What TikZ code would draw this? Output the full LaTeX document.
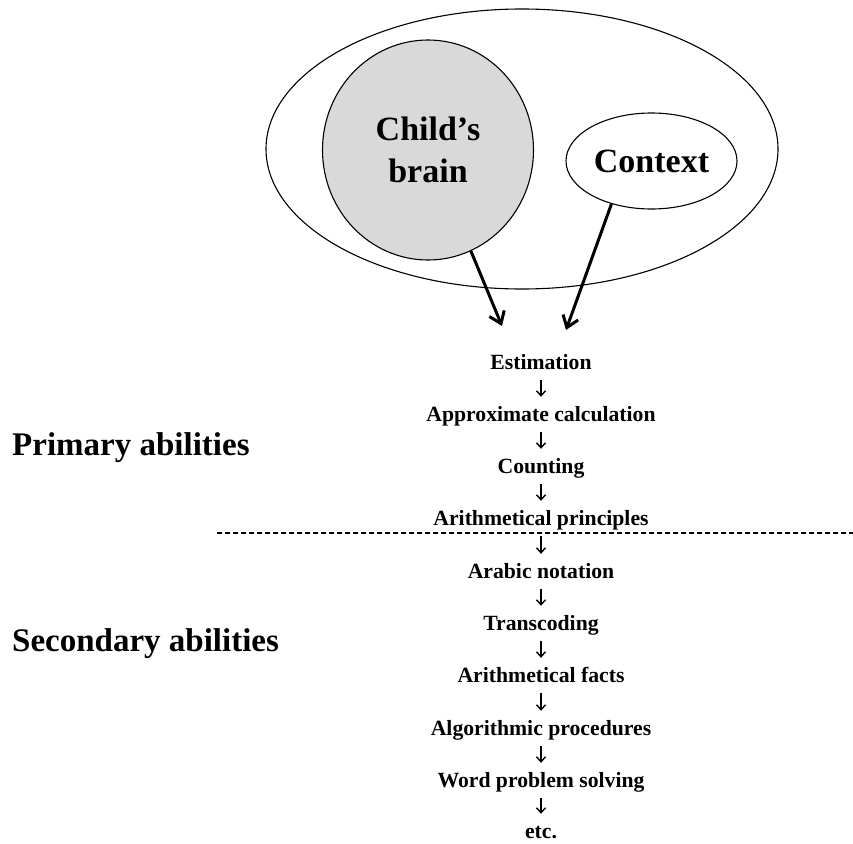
\documentclass[tikz,border=0pt]{standalone}
\usepackage{fontspec}
\setmainfont{Liberation Serif}
\usetikzlibrary{shapes.geometric,arrows.meta}
\tikzset{
  colitem/.style={font=\fontsize{21.7}{26}\selectfont\bfseries, inner sep=0pt, anchor=base, text height=24pt, text depth=11pt},
  smallarrow/.style={draw, line width=1.4pt, -{Straight Barb[length=5pt,width=9pt]}},
  bigarrow/.style={draw, line width=3pt, -{Straight Barb[length=11pt,width=16pt]}},
  sidelabel/.style={font=\fontsize{33}{40}\selectfont\bfseries, inner sep=0pt, anchor=base west},
  bubble/.style={ellipse, draw, line width=1.1pt, inner sep=0pt, font=\fontsize{34}{42}\selectfont\bfseries, align=center},
  divider/.style={draw, line width=1.2pt, dash pattern=on 5pt off 3pt}
}
\begin{document}
\begin{tikzpicture}[x=1pt,y=-1pt]
\useasboundingbox (0,0) rectangle (853,843);
% environment
\node[bubble, minimum width=512pt, minimum height=280pt] (env) at (522,149) {};
\node[bubble, fill=black!15, minimum width=211pt, minimum height=220pt] (brain) at (428,150) {Child’s\\brain};
\node[bubble, minimum width=171pt, minimum height=96pt] (ctx) at (651.5,161) {Context};
\coordinate (b1) at (502,326);
\coordinate (c1) at (566,330);
\draw[bigarrow] (brain.-67) -- (b1);
\draw[bigarrow] (ctx.-133) -- (c1);
% column
\node[colitem] (n1) at (541,369) {Estimation};
\node[colitem] (n2) at (541,421) {Approximate calculation};
\node[colitem] (n3) at (541,473) {Counting};
\node[colitem] (n4) at (541,525) {Arithmetical principles};
\node[colitem] (n5) at (541,578) {Arabic notation};
\node[colitem] (n6) at (541,630) {Transcoding};
\node[colitem] (n7) at (541,682) {Arithmetical facts};
\node[colitem] (n8) at (541,735) {Algorithmic procedures};
\node[colitem] (n9) at (541,787) {Word problem solving};
\node[colitem] (n10) at (541,838) {etc.};
\foreach \a/\b in {n1/n2,n2/n3,n3/n4,n4/n5,n5/n6,n6/n7,n7/n8,n8/n9,n9/n10}
  \draw[smallarrow] (\a.south) -- (\b.north);
% divider
\coordinate (d1) at (217,533);
\coordinate (d2) at (853,533);
\draw[divider] (d1) -- (d2);
% side labels
\node[sidelabel] (prim) at (12,455) {Primary abilities};
\node[sidelabel] (sec) at (12,651) {Secondary abilities};
\end{tikzpicture}
\end{document}
